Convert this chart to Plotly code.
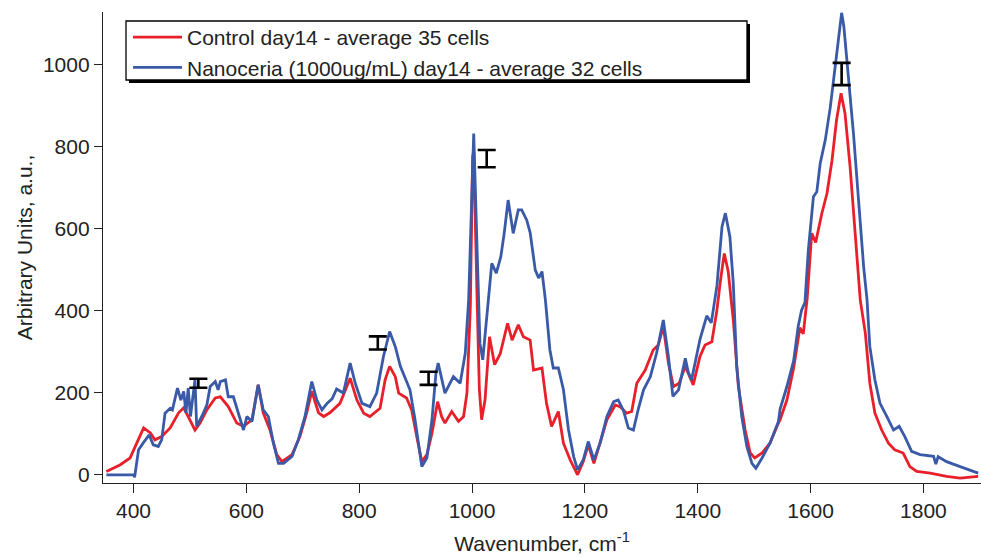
import plotly.graph_objects as go

# Raman spectra, day 14 (wavenumber in cm-1, intensity in a.u.)
control_x = [352, 376, 394, 406, 418, 430, 438, 450, 465, 480, 489, 497, 509, 518, 530, 545, 554, 568,
             583, 595, 610, 621, 630, 642, 654, 663, 681, 695, 707, 716, 728, 737, 748, 766, 784, 796,
             808, 819, 837, 846, 854, 864, 870, 884, 893, 902, 911, 920, 929, 939, 946, 952, 964, 976,
             985, 991, 997, 1001, 1003, 1009, 1013, 1017, 1023, 1031, 1040, 1050, 1063, 1071, 1082,
             1091, 1103, 1109, 1124, 1132, 1141, 1153, 1162, 1174, 1187, 1197, 1206, 1216, 1227, 1239,
             1254, 1262, 1274, 1283, 1292, 1307, 1321, 1330, 1339, 1348, 1357, 1367, 1378, 1392, 1404,
             1413, 1425, 1434, 1440, 1447, 1454, 1463, 1472, 1484, 1493, 1501, 1514, 1528, 1543, 1546,
             1558, 1570, 1581, 1587, 1594, 1602, 1609, 1620, 1629, 1638, 1646, 1654, 1661, 1670, 1679,
             1688, 1697, 1705, 1714, 1726, 1738, 1749, 1764, 1776, 1788, 1812, 1841, 1865, 1897]
control_y = [8, 24, 41, 78, 114, 102, 85, 93, 114, 151, 163, 142, 109, 126, 158, 187, 190, 166,
             126, 118, 134, 219, 151, 109, 49, 32, 49, 93, 151, 203, 151, 142, 151, 174, 235, 182,
             150, 142, 162, 231, 264, 239, 199, 187, 158, 93, 32, 49, 101, 178, 142, 126, 154, 130,
             142, 199, 410, 774, 790, 426, 207, 134, 182, 336, 268, 295, 369, 328, 365,
             336, 328, 255, 260, 174, 118, 154, 77, 36, 0, 32, 73, 28, 77, 134,
             170, 166, 150, 154, 223, 255, 304, 316, 361, 272, 215, 223, 264, 219, 288,
             316, 324, 401, 470, 539, 495, 377, 215, 109, 53, 41, 53, 77, 126, 134,
             182, 260, 358, 343, 430, 588, 566, 637, 685, 766, 864, 929, 880, 750, 588,
             426, 345, 223, 150, 109, 77, 61, 53, 20, 8, 4, -4, -8, -4]

ceria_x = [352, 400, 402, 409, 418, 428, 435, 444, 450, 456, 465, 469, 478, 484, 489, 493, 497, 501,
           509, 512, 521, 530, 536, 545, 550, 554, 563, 568, 577, 586, 595, 601, 610, 621, 630, 639,
           648, 657, 666, 681, 692, 704, 716, 725, 734, 743, 752, 760, 772, 784, 793, 805, 819, 831,
           843, 854, 864, 873, 881, 890, 899, 911, 920, 929, 936, 940, 952, 967, 979, 988, 994, 1000,
           1003, 1009, 1014, 1019, 1026, 1035, 1043, 1051, 1057, 1064, 1073, 1082, 1088, 1097, 1103,
           1112, 1118, 1124, 1130, 1138, 1144, 1153, 1162, 1171, 1180, 1187, 1197, 1206, 1216, 1227,
           1239, 1251, 1259, 1268, 1277, 1286, 1295, 1304, 1316, 1327, 1339, 1348, 1356, 1366, 1378,
           1383, 1389, 1398, 1404, 1416, 1424, 1434, 1443, 1449, 1457, 1463, 1469, 1478, 1487, 1496,
           1503, 1514, 1528, 1543, 1546, 1558, 1570, 1578, 1584, 1590, 1596, 1605, 1611, 1617, 1626,
           1635, 1643, 1651, 1655, 1659, 1667, 1676, 1685, 1694, 1700, 1705, 1714, 1723, 1735, 1747,
           1757, 1767, 1779, 1794, 1818, 1822, 1826, 1841, 1865, 1883, 1897]
ceria_y = [0, 0, -6, 61, 79, 97, 73, 69, 85, 150, 162, 158, 211, 182, 203, 151, 211, 142,
           231, 118, 142, 170, 215, 227, 207, 227, 231, 190, 190, 150, 109, 142, 130, 219, 158, 142,
           77, 28, 28, 45, 85, 142, 227, 182, 158, 174, 185, 209, 199, 272, 223, 174, 166, 199,
           288, 349, 312, 264, 235, 207, 134, 20, 41, 134, 247, 272, 199, 239, 223, 296, 426, 710,
           831, 547, 320, 280, 385, 515, 491, 531, 588, 669, 588, 645, 645, 620, 590,
           499, 479, 495, 426, 304, 260, 260, 207, 109, 45, 12, 36, 81, 36, 77,
           142, 178, 182, 158, 114, 109, 162, 207, 239, 296, 377, 288, 191, 207, 284,
           251, 231, 288, 330, 387, 370, 460, 604, 637, 580, 466, 264, 142, 69, 28,
           16, 41, 77, 130, 160, 215, 278, 361, 401, 420, 547, 677, 689, 758, 815,
           896, 993, 1091, 1125, 1091, 977, 831, 669, 507, 426, 312, 231, 174, 142, 109,
           118, 93, 57, 49, 45, 26, 44, 32, 20, 12, 4]

# Band-intensity error bars
err_x = [515, 833, 923, 1026, 1655]
err_y = [223, 321, 235, 770, 976]
err_e = [11, 16, 16, 21, 27]

x_ticks = [400, 600, 800, 1000, 1200, 1400, 1600, 1800]
y_ticks = [0, 200, 400, 600, 800, 1000]

RED = "#e8202a"
BLUE = "#3a5aa8"
INK = "#222222"
FONT = "Liberation Sans, Arial, sans-serif"
FS = 21

fig = go.Figure()
fig.add_trace(go.Scatter(x=control_x, y=control_y, mode="lines",
                         line=dict(color=RED, width=2.8),
                         name="Control day14 - average 35 cells"))
fig.add_trace(go.Scatter(x=ceria_x, y=ceria_y, mode="lines",
                         line=dict(color=BLUE, width=2.8),
                         name="Nanoceria (1000ug/mL) day14 - average 32 cells"))
fig.add_trace(go.Scatter(x=err_x, y=err_y, mode="markers",
                         marker=dict(size=1, opacity=0),
                         error_y=dict(type="data", array=err_e, visible=True,
                                      color="black", thickness=2.6, width=9),
                         showlegend=False, hoverinfo="skip"))

# plot area: left 103 px, right 981 px, top 12 px, bottom 483 px
W, H = 981, 559
L, R, T, B = 103, 0, 12, 76
pw, ph = W - L - R, H - T - B


def px(xp):
    return (xp - L) / pw


def py(yp):
    return (H - B - yp) / ph


# legend frame with drop shadow
shapes = [
    dict(type="rect", xref="paper", yref="paper",
         x0=px(129), x1=px(750), y0=py(83), y1=py(24),
         fillcolor="black", line=dict(width=0), layer="above"),
    dict(type="rect", xref="paper", yref="paper",
         x0=px(126), x1=px(747), y0=py(80), y1=py(21),
         fillcolor="white", line=dict(color="black", width=1.3), layer="above"),
]

fig.update_layout(
    width=W, height=H,
    margin=dict(l=L, r=R, t=T, b=B),
    paper_bgcolor="white", plot_bgcolor="white",
    font=dict(family=FONT, size=FS, color=INK),
    showlegend=True,
    legend=dict(x=px(128), y=py(17), xanchor="left", yanchor="top",
                bgcolor="rgba(0,0,0,0)", borderwidth=0,
                font=dict(family=FONT, size=FS, color=INK),
                itemwidth=49, tracegroupgap=0),
    shapes=shapes,
    xaxis=dict(range=[346, 1902], tickvals=x_ticks, ticks="outside", ticklen=9,
               tickwidth=1.3, tickcolor=INK, showline=True, linecolor=INK, linewidth=1.3,
               showgrid=False, zeroline=False, tickfont=dict(size=FS),
               title=dict(text="Wavenumber, cm<sup>-1</sup>", standoff=14,
                          font=dict(size=FS, family=FONT, color=INK))),
    yaxis=dict(range=[-20, 1127], tickvals=y_ticks, ticks="outside", ticklen=8,
               tickwidth=1.3, tickcolor=INK, showline=True, linecolor=INK, linewidth=1.3,
               showgrid=False, zeroline=False, tickfont=dict(size=FS),
               title=dict(text="Arbitrary Units, a.u.,", standoff=4,
                          font=dict(size=FS, family=FONT, color=INK))),
)

fig.write_html("out.html")
